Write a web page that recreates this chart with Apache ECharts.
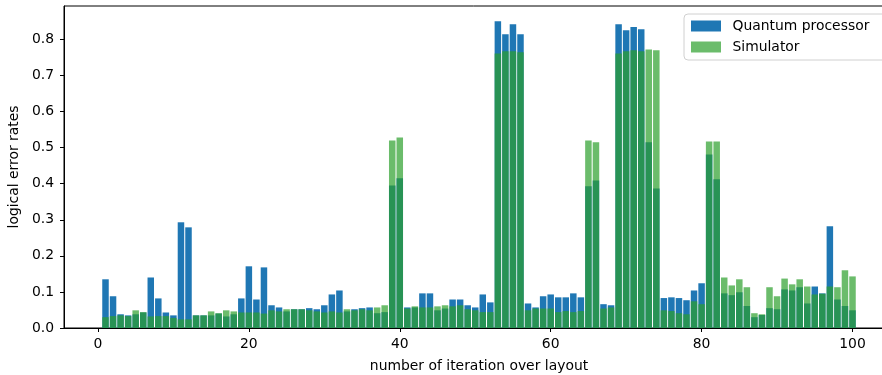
<!DOCTYPE html>
<html>
<head>
<meta charset="utf-8">
<script src="https://cdn.jsdelivr.net/npm/echarts@6/dist/echarts.min.js"></script>
<style>
html,body{margin:0;padding:0;background:#fff;}
#chart{width:882px;height:375px;}
</style>
</head>
<body>
<div id="chart"></div>
<script>
const iterations = Array.from({length: 100}, (_, k) => k + 1);
const quantumProcessor = [
  0.135, 0.088, 0.038, 0.035, 0.038, 0.043, 0.140, 0.082, 0.043, 0.035,
  0.293, 0.279, 0.035, 0.035, 0.035, 0.040, 0.032, 0.038, 0.082, 0.171,
  0.079, 0.168, 0.063, 0.057, 0.046, 0.052, 0.052, 0.055, 0.052, 0.063,
  0.093, 0.104, 0.046, 0.052, 0.055, 0.057, 0.041, 0.044, 0.395, 0.415,
  0.057, 0.057, 0.096, 0.096, 0.049, 0.054, 0.079, 0.079, 0.063, 0.057,
  0.093, 0.071, 0.850, 0.814, 0.842, 0.814, 0.068, 0.057, 0.088, 0.093,
  0.085, 0.085, 0.096, 0.085, 0.393, 0.409, 0.066, 0.063, 0.842, 0.825,
  0.834, 0.828, 0.515, 0.387, 0.083, 0.085, 0.083, 0.077, 0.104, 0.124,
  0.481, 0.412, 0.096, 0.091, 0.099, 0.061, 0.030, 0.036, 0.055, 0.052,
  0.107, 0.104, 0.113, 0.068, 0.115, 0.096, 0.282, 0.079, 0.061, 0.049
];
const simulator = [
  0.030, 0.033, 0.035, 0.033, 0.049, 0.044, 0.032, 0.033, 0.033, 0.028,
  0.024, 0.024, 0.035, 0.035, 0.046, 0.041, 0.049, 0.046, 0.043, 0.043,
  0.043, 0.040, 0.049, 0.046, 0.052, 0.052, 0.052, 0.049, 0.046, 0.043,
  0.046, 0.043, 0.052, 0.049, 0.052, 0.049, 0.057, 0.063, 0.520, 0.528,
  0.054, 0.060, 0.057, 0.057, 0.060, 0.063, 0.060, 0.063, 0.052, 0.049,
  0.044, 0.044, 0.761, 0.767, 0.767, 0.764, 0.049, 0.054, 0.054, 0.054,
  0.044, 0.047, 0.044, 0.047, 0.520, 0.515, 0.054, 0.057, 0.761, 0.767,
  0.770, 0.767, 0.772, 0.770, 0.049, 0.047, 0.041, 0.038, 0.074, 0.066,
  0.517, 0.517, 0.140, 0.118, 0.135, 0.113, 0.041, 0.038, 0.113, 0.088,
  0.137, 0.121, 0.135, 0.115, 0.093, 0.095, 0.115, 0.113, 0.160, 0.143
];
const xTicks = [0, 20, 40, 60, 80, 100];
const yTicks = [0, 0.1, 0.2, 0.3, 0.4, 0.5, 0.6, 0.7, 0.8];

const FONT = 'DejaVu Sans';
const FS = 13.9;
const chart = echarts.init(document.getElementById('chart'), null, {renderer: 'canvas'});
chart.setOption({
  animation: false,
  textStyle: {fontFamily: FONT, color: '#000'},
  grid: {left: 64, top: 6, width: 830, height: 322, containLabel: false, outerBoundsMode: 'none',
    show: true, borderColor: '#000', borderWidth: 1, backgroundColor: 'transparent'},
  legend: {
    orient: 'vertical', left: 684, top: 14,
    itemWidth: 30, itemHeight: 11, itemGap: 7,
    padding: [5, 20, 6, 7],
    backgroundColor: 'rgba(255,255,255,0.8)',
    borderColor: '#d0d0d0', borderWidth: 1, borderRadius: 4,
    icon: 'rect',
    itemStyle: {borderWidth: 0},
    textStyle: {fontFamily: FONT, fontSize: FS, lineHeight: 14, color: '#000', padding: [0, 0, 0, 6.5]},
    data: ['Quantum processor', 'Simulator']
  },
  xAxis: {
    type: 'value', min: -4.5, max: 105.5,
    name: 'number of iteration over layout', nameLocation: 'middle', nameGap: 31,
    nameTextStyle: {fontFamily: FONT, fontSize: FS, color: '#000'},
    axisLine: {show: true, onZero: false, lineStyle: {color: '#000', width: 1}},
    axisTick: {show: true, length: 4, lineStyle: {color: '#000'}, customValues: xTicks},
    axisLabel: {fontFamily: FONT, fontSize: FS, color: '#000', margin: 9, customValues: xTicks},
    splitLine: {show: false}
  },
  yAxis: {
    type: 'value', min: 0, max: 0.8925,
    name: 'logical error rates', nameLocation: 'middle', nameGap: 40,
    nameTextStyle: {fontFamily: FONT, fontSize: FS, color: '#000'},
    axisLine: {show: true, onZero: false, lineStyle: {color: '#000', width: 1}},
    axisTick: {show: true, length: 4, lineStyle: {color: '#000'}, customValues: yTicks},
    axisLabel: {fontFamily: FONT, fontSize: FS, color: '#000', margin: 10, customValues: yTicks,
      formatter: v => v.toFixed(1)},
    splitLine: {show: false}
  },
  series: [
    {
      name: 'Quantum processor', type: 'bar', barWidth: 6.5, barGap: '-100%',
      itemStyle: {color: '#1f77b4'},
      data: iterations.map((x, k) => [x, quantumProcessor[k]]),
      z: 2
    },
    {
      name: 'Simulator', type: 'bar', barWidth: 6.5, barGap: '-100%',
      itemStyle: {color: 'rgba(44,160,44,0.7)'},
      data: iterations.map((x, k) => [x, simulator[k]]),
      z: 3
    }
  ]
});
</script>
</body>
</html>
